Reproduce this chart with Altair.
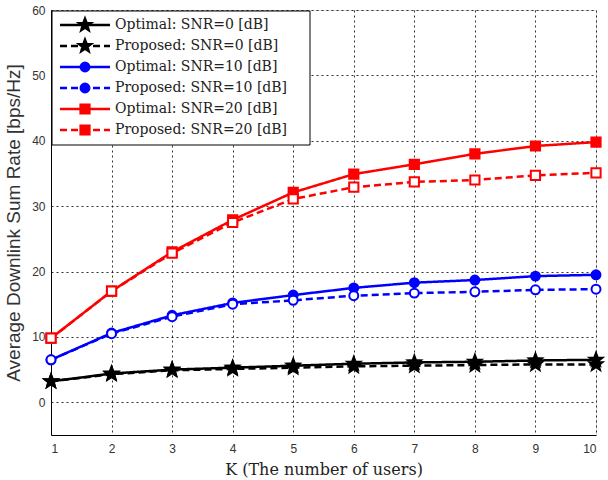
import math
import altair as alt
import pandas as pd

K = list(range(1, 11))
opt0 = [3.2, 4.4, 5.0, 5.3, 5.6, 5.9, 6.1, 6.2, 6.4, 6.5]
prop0 = [3.2, 4.3, 4.9, 5.1, 5.3, 5.5, 5.6, 5.7, 5.8, 5.8]
opt10 = [6.5, 10.6, 13.3, 15.2, 16.4, 17.5, 18.3, 18.7, 19.3, 19.5]
prop10 = [6.5, 10.5, 13.1, 15.0, 15.6, 16.3, 16.7, 16.9, 17.2, 17.3]
opt20 = [9.8, 17.0, 23.0, 27.9, 32.1, 34.9, 36.4, 38.0, 39.2, 39.8]
prop20 = [9.8, 17.0, 22.8, 27.5, 31.1, 32.9, 33.7, 34.0, 34.7, 35.1]

labels = [
    "Optimal: SNR=0 [dB]",
    "Proposed: SNR=0 [dB]",
    "Optimal: SNR=10 [dB]",
    "Proposed: SNR=10 [dB]",
    "Optimal: SNR=20 [dB]",
    "Proposed: SNR=20 [dB]",
]
series_vals = [opt0, prop0, opt10, prop10, opt20, prop20]
colors = ["#000000", "#000000", "#0000ff", "#0000ff", "#ff0000", "#ff0000"]
dashes = [[1, 0], [7, 4], [1, 0], [7, 4], [1, 0], [7, 4]]
fills = ["#000000", "#000000", "#0000ff", "#ffffff", "#ff0000", "#ffffff"]

# star symbol path
pts = []
for i in range(10):
    r = 1.0 if i % 2 == 0 else 0.42
    a = -math.pi / 2 + i * math.pi / 5
    pts.append(f"{r*math.cos(a):.3f},{r*math.sin(a):.3f}")
star = "M" + "L".join(pts) + "Z"
shapes = [star, star, "circle", "circle", "square", "square"]
sizes = [190, 190, 80, 80, 85, 85]

rows = []
for lab, vals in zip(labels, series_vals):
    for k, v in zip(K, vals):
        rows.append({"K": k, "rate": v, "series": lab})
df = pd.DataFrame(rows)

W, H = 545, 425
XMIN, XMAX, YMIN, YMAX = 1, 10, -5, 60
SERIF = "DejaVu Serif, Liberation Serif, serif"

def px2x(px):
    return XMIN + (px - 51) / W * (XMAX - XMIN)

def py2y(py):
    return YMAX - (py - 10) / H * (YMAX - YMIN)

xs = alt.Scale(domain=[XMIN, XMAX], nice=False)
ys = alt.Scale(domain=[YMIN, YMAX], nice=False)

base = alt.Chart(df)

layers = []
for i, lab in enumerate(labels):
    d = base.transform_filter(alt.datum.series == lab)
    line = d.mark_line(
        color=colors[i], strokeWidth=2.5, strokeDash=dashes[i]
    ).encode(
        x=alt.X("K:Q", scale=xs,
                axis=alt.Axis(values=K, format="d", title="K (The number of users)", grid=True,
                              gridDash=[2, 3], gridColor="#000000", gridOpacity=0.8,
                              tickSize=0, labelPadding=8, labelFont="Liberation Sans",
                              labelFontSize=12, labelColor="#333333",
                              titleFont=SERIF, titleFontSize=16,
                              titleFontWeight="normal", titleColor="#222222",
                              titlePadding=7, domainColor="#000000")),
        y=alt.Y("rate:Q", scale=ys,
                axis=alt.Axis(values=[0, 10, 20, 30, 40, 50, 60], format="d",
                              title="Average Downlink Sum Rate [bps/Hz]", grid=True,
                              gridDash=[2, 3], gridColor="#000000", gridOpacity=0.8,
                              tickSize=0, labelPadding=6, labelFont="Liberation Sans",
                              labelFontSize=12, labelColor="#333333",
                              titleFont="Liberation Sans", titleFontSize=19,
                              titleFontWeight="normal", titleColor="#333333",
                              titlePadding=8, domainColor="#000000")),
    )
    pt = d.mark_point(
        shape=shapes[i], size=sizes[i], filled=False, fill=fills[i], fillOpacity=1,
        stroke=colors[i], strokeWidth=2, opacity=1
    ).encode(x=alt.X("K:Q", scale=xs), y=alt.Y("rate:Q", scale=ys))
    layers += [line, pt]

# manual legend
leg_box = pd.DataFrame([{"x": px2x(52), "x2": px2x(310), "y": py2y(11), "y2": py2y(145)}])
box = alt.Chart(leg_box).mark_rect(fill="white", stroke="black", strokeWidth=1).encode(
    x=alt.X("x:Q", scale=xs), x2="x2:Q", y=alt.Y("y:Q", scale=ys), y2="y2:Q"
)
row_py = [25, 46, 67, 88, 109, 130]
leg_layers = [box]
for i, lab in enumerate(labels):
    yy = py2y(row_py[i])
    seg = pd.DataFrame([{"x": px2x(60), "y": yy}, {"x": px2x(110), "y": yy}])
    leg_layers.append(
        alt.Chart(seg).mark_line(color=colors[i], strokeWidth=2.5, strokeDash=dashes[i])
        .encode(x=alt.X("x:Q", scale=xs), y=alt.Y("y:Q", scale=ys))
    )
    mk = pd.DataFrame([{"x": px2x(85), "y": yy}])
    leg_layers.append(
        alt.Chart(mk).mark_point(shape=shapes[i], size=sizes[i], filled=False,
                                 fill=colors[i], fillOpacity=1, stroke=colors[i],
                                 strokeWidth=2, opacity=1)
        .encode(x=alt.X("x:Q", scale=xs), y=alt.Y("y:Q", scale=ys))
    )
    tx = pd.DataFrame([{"x": px2x(115), "y": yy, "t": lab}])
    leg_layers.append(
        alt.Chart(tx).mark_text(align="left", baseline="middle", font=SERIF,
                                fontSize=14, color="#222222")
        .encode(x=alt.X("x:Q", scale=xs), y=alt.Y("y:Q", scale=ys), text="t:N")
    )

chart = alt.layer(*layers, *leg_layers).properties(
    width=W, height=H,
    autosize=alt.AutoSizeParams(type="none"),
    padding={"left": 51, "top": 10, "right": 12, "bottom": 45},
).configure_view(stroke="#000000", strokeWidth=1).configure(background="white")

chart.save("out.html", embed_options={"renderer": "svg", "actions": False})
